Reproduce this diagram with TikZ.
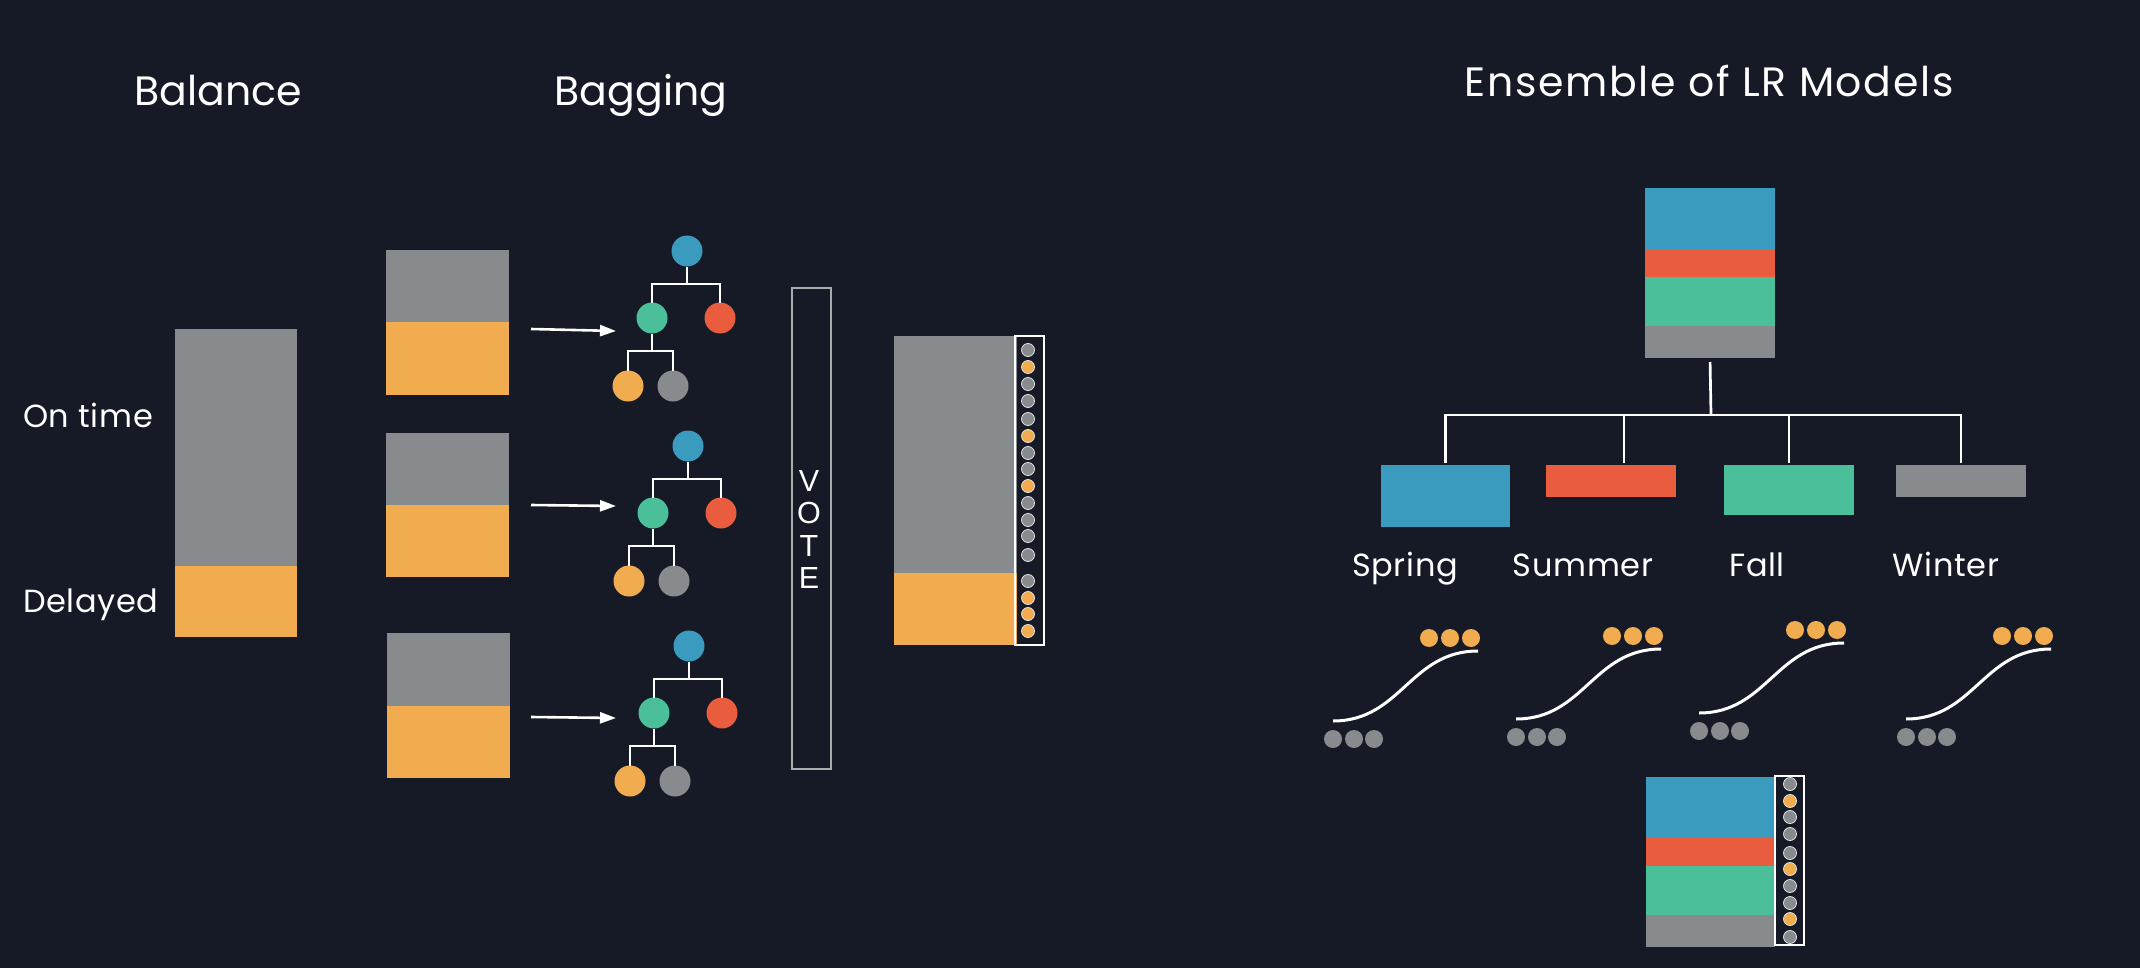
\documentclass[tikz,border=0pt]{standalone}
\usepackage{fontspec}
\setmainfont{Poppins}
\newfontfamily\votefont{Liberation Sans}
\usetikzlibrary{arrows.meta}
\definecolor{bg}{HTML}{151A26}
\definecolor{cgray}{HTML}{878B8E}
\definecolor{corange}{HTML}{F0AC4E}
\definecolor{cblue}{HTML}{3A9BBF}
\definecolor{cred}{HTML}{E95C3D}
\definecolor{cgreen}{HTML}{4BBF99}
\definecolor{voteline}{HTML}{A8ABAE}
\tikzset{
  blk/.style={rectangle, draw=none, inner sep=0pt, outer sep=0pt, anchor=north west},
  tdot/.style={circle, draw=none, inner sep=0pt, outer sep=0pt, minimum size=31pt},
  sdot/.style={circle, draw=none, inner sep=0pt, outer sep=0pt, minimum size=18pt},
  vdot/.style={circle, draw=white!75!cgray, line width=0.8pt, inner sep=0pt, minimum size=13pt},
  tl/.style={draw=white, line width=2.7pt},
  arr/.style={draw=white, line width=2.6pt, -{Triangle[length=16pt,width=11pt]}},
  curvestyle/.style={draw=white, line width=3pt},
  titletext/.style={text=white, font=\fontsize{41}{48}\selectfont, inner sep=0pt},
  labeltext/.style={text=white, font=\fontsize{32}{36}\selectfont\addfontfeature{LetterSpace=2}, inner sep=0pt},
}
\newcommand\baggingtree[3]{%
  \begin{scope}[shift={(#2,#3)}]
    \node[tdot, fill=cblue] (#1r) at (0,0) {};
    \node[tdot, fill=cgreen] (#1g) at (-35,67) {};
    \node[tdot, fill=cred] (#1d) at (33,67) {};
    \node[tdot, fill=corange] (#1o) at (-59,135) {};
    \node[tdot, fill=cgray] (#1y) at (-14,135) {};
    \coordinate (#1j) at (0,33);
    \coordinate (#1k) at (-35,100);
    \draw[tl] (#1r) -- (#1j);
    \draw[tl] (#1g) |- (#1j) -| (#1d);
    \draw[tl] (#1g) -- (#1k);
    \draw[tl] (#1o) |- (#1k) -| (#1y);
  \end{scope}}
\newcommand\sigset[3]{%
  \begin{scope}[shift={(#2,#3)}]
    \draw[curvestyle] (0,0) .. controls (68,0) and (77,-70) .. (145,-70);
    \node[sdot, fill=corange] (#1o1) at (96,-83) {};
    \node[sdot, fill=corange] (#1o2) at (117,-83) {};
    \node[sdot, fill=corange] (#1o3) at (138,-83) {};
    \node[sdot, fill=cgray] (#1g1) at (0,18) {};
    \node[sdot, fill=cgray] (#1g2) at (21,18) {};
    \node[sdot, fill=cgray] (#1g3) at (41,18) {};
  \end{scope}}
\begin{document}
\begin{tikzpicture}[x=1pt,y=-1pt]
\useasboundingbox (0,0) rectangle (2140,968);
\fill[bg] (0,0) rectangle (2140,968);

% titles
\node[titletext, anchor=base] (tbal) at (218,106) {Balance};
\node[titletext, anchor=base] (tbag) at (641,106) {Bagging};
\node[titletext, font=\fontsize{41}{48}\selectfont\addfontfeature{LetterSpace=4}, anchor=base] (tens) at (1709,97) {Ensemble of LR Models};

% balance bar
\node[blk, fill=cgray, minimum width=122pt, minimum height=237pt] (balg) at (175,329) {};
\node[blk, fill=corange, minimum width=122pt, minimum height=71pt] (balo) at (175,566) {};
\node[labeltext, anchor=base west] (lon) at (23,427) {On time};
\node[labeltext, anchor=base west] (ldel) at (23,612) {Delayed};

% bagging boxes
\node[blk, fill=cgray, minimum width=123pt, minimum height=72pt] (b1g) at (386,250) {};
\node[blk, fill=corange, minimum width=123pt, minimum height=73pt] (b1o) at (386,322) {};
\node[blk, fill=cgray, minimum width=123pt, minimum height=72pt] (b2g) at (386,433) {};
\node[blk, fill=corange, minimum width=123pt, minimum height=72pt] (b2o) at (386,505) {};
\node[blk, fill=cgray, minimum width=123pt, minimum height=73pt] (b3g) at (387,633) {};
\node[blk, fill=corange, minimum width=123pt, minimum height=72pt] (b3o) at (387,706) {};

% trees
\baggingtree{ta}{687}{251}
\baggingtree{tb}{688}{446}
\baggingtree{tc}{689}{646}

% arrows
\coordinate (a1s) at (531,329); \coordinate (a1e) at (616,331);
\coordinate (a2s) at (531,505); \coordinate (a2e) at (616,506);
\coordinate (a3s) at (531,717); \coordinate (a3e) at (616,718);
\draw[arr] (a1s) -- (a1e);
\draw[arr] (a2s) -- (a2e);
\draw[arr] (a3s) -- (a3e);

% vote box
\node[blk, draw=voteline, line width=1.3pt, minimum width=39pt, minimum height=481pt] (vote) at (792,288) {};
\node[text=white, font=\votefont\fontsize{30.5}{32.4}\selectfont, align=center, inner sep=0pt] (votetxt) at (809,529.5) {V\\O\\T\\E};

% result bar
\node[blk, fill=cgray, minimum width=123pt, minimum height=237pt] (rg) at (894,336) {};
\node[blk, fill=corange, minimum width=123pt, minimum height=72pt] (ro) at (894,573) {};
\node[blk, draw=white, line width=2pt, minimum width=29pt, minimum height=309pt] (rbox) at (1015,336) {};
\foreach \yy/\cc [count=\i] in {350/cgray,367/corange,384/cgray,401/cgray,419/cgray,436/corange,453/cgray,469/cgray,486/corange,503/cgray,520/cgray,536/cgray,555/cgray,581/cgray,598/corange,614/corange,631/corange}
  \node[vdot, fill=\cc] (rd\i) at (1028,\yy) {};

% ensemble top bar
\node[blk, fill=cblue, minimum width=130pt, minimum height=61pt] (eb) at (1645,188) {};
\node[blk, fill=cred, minimum width=130pt, minimum height=28pt] (er) at (1645,249) {};
\node[blk, fill=cgreen, minimum width=130pt, minimum height=49pt] (eg) at (1645,277) {};
\node[blk, fill=cgray, minimum width=130pt, minimum height=32pt] (ey) at (1645,326) {};

% season boxes
\node[blk, fill=cblue, minimum width=129pt, minimum height=62pt] (spring) at (1381,465) {};
\node[blk, fill=cred, minimum width=130pt, minimum height=32pt] (summer) at (1546,465) {};
\node[blk, fill=cgreen, minimum width=130pt, minimum height=50pt] (fall) at (1724,465) {};
\node[blk, fill=cgray, minimum width=130pt, minimum height=32pt] (winter) at (1896,465) {};

\coordinate (sj) at (1711,415);
\draw[tl, shorten <=4pt] (ey.south) -- (sj);
\draw[tl, shorten >=2pt] (sj) -| (spring.north);
\draw[tl, shorten >=2pt] (sj) -| (winter.north);
\draw[tl, shorten >=2pt] (sj) -| ([xshift=13pt]summer.north);
\draw[tl, shorten >=2pt] (sj) -| (fall.north);

\node[labeltext, anchor=base] (lsp) at (1405,576) {Spring};
\node[labeltext, anchor=base] (lsu) at (1583,576) {Summer};
\node[labeltext, anchor=base] (lfa) at (1757,576) {Fall};
\node[labeltext, anchor=base] (lwi) at (1946,576) {Winter};

% sigmoids
\sigset{sa}{1333}{721}
\sigset{sb}{1516}{719}
\sigset{sc}{1699}{713}
\sigset{sd}{1906}{719}

% bottom result
\node[blk, fill=cblue, minimum width=129pt, minimum height=61pt] (fb) at (1646,777) {};
\node[blk, fill=cred, minimum width=129pt, minimum height=28pt] (fr) at (1646,838) {};
\node[blk, fill=cgreen, minimum width=129pt, minimum height=49pt] (fg) at (1646,866) {};
\node[blk, fill=cgray, minimum width=129pt, minimum height=32pt] (fy) at (1646,915) {};
\node[blk, draw=white, line width=2pt, minimum width=29pt, minimum height=169pt] (fbox) at (1775,776) {};
\foreach \yy/\cc [count=\i] in {784/cgray,801/corange,817/cgray,834/cgray,853/cgray,869/corange,886/cgray,903/cgray,919/corange,937/cgray}
  \node[vdot, fill=\cc] (fd\i) at (1790,\yy) {};
\end{tikzpicture}
\end{document}
